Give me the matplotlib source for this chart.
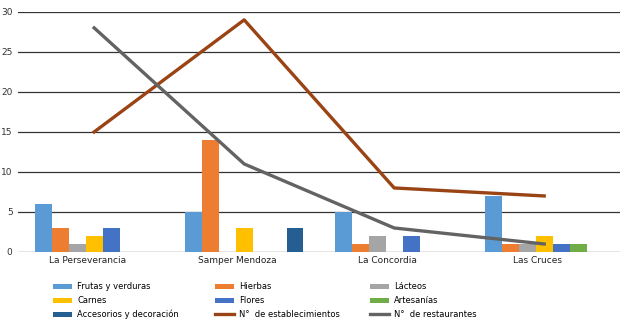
import matplotlib
matplotlib.use("Agg")
import matplotlib.pyplot as plt
import numpy as np
from matplotlib.patches import Patch
from matplotlib.lines import Line2D

categories = ["La Perseverancia", "Samper Mendoza", "La Concordia", "Las Cruces"]
frutas = [6, 5, 5, 7]
hierbas = [3, 14, 1, 1]
lacteos = [1, 0, 2, 1]
carnes = [2, 3, 0, 2]
flores = [3, 0, 2, 1]
artesanias = [0, 0, 0, 1]
accesorios = [0, 3, 0, 0]
establecimientos = [15, 29, 8, 7]
restaurantes = [28, 11, 3, 1]

bar_series = [
    ("Frutas y verduras", frutas, "#5B9BD5"),
    ("Hierbas", hierbas, "#ED7D31"),
    ("Lácteos", lacteos, "#A5A5A5"),
    ("Carnes", carnes, "#FFC000"),
    ("Flores", flores, "#4472C4"),
    ("Artesanías", artesanias, "#70AD47"),
    ("Accesorios y decoración", accesorios, "#255E91"),
]
line_series = [
    ("N°  de establecimientos", establecimientos, "#9A4416"),
    ("N°  de restaurantes", restaurantes, "#636363"),
]

plt.rcParams['font.family'] = ['DejaVu Sans']

fig = plt.figure(figsize=(6.24, 3.21), dpi=100)
ax = fig.add_axes([0.029, 0.215, 0.965, 0.748])

x = np.arange(len(categories))
n = len(bar_series)
w = 0.113
handles = {}
for i, (name, vals, col) in enumerate(bar_series):
    off = (i - (n - 1) / 2) * w
    ax.bar(x + off, vals, width=w, color=col, zorder=3)
    handles[name] = Patch(facecolor=col, label=name)
for name, vals, col in line_series:
    ax.plot(x, vals, color=col, lw=2.4, zorder=4)
    handles[name] = Line2D([0], [0], color=col, lw=2.4, label=name)

ax.set_xlim(-0.507, 3.507)
ax.set_ylim(0, 30)
ax.set_yticks(range(0, 31, 5))
ax.yaxis.grid(True, color="#333333", lw=0.9, zorder=0)
ax.set_axisbelow(True)
for s in ax.spines.values():
    s.set_visible(False)
ax.tick_params(axis='y', length=0, labelsize=6.5, pad=4, colors="#333333")
ax.tick_params(axis='x', length=0, labelsize=6.5, pad=3, colors="#222222")
ax.set_xticks(x - 0.045)
ax.set_xticklabels(categories)

columns = [
    ["Frutas y verduras", "Carnes", "Accesorios y decoración"],
    ["Hierbas", "Flores", "N°  de establecimientos"],
    ["Lácteos", "Artesanías", "N°  de restaurantes"],
]
xs = [53 / 624, 215 / 624, 370 / 624]
for cx, col in zip(xs, columns):
    leg = fig.legend(handles=[handles[k] for k in col], ncol=1,
                     loc="upper left", bbox_to_anchor=(cx, 0.12),
                     frameon=False, fontsize=6, handlelength=2.3, handleheight=0.55,
                     labelspacing=0.55, handletextpad=0.6,
                     borderaxespad=0, borderpad=0)

fig.savefig("out.png", dpi=100)
